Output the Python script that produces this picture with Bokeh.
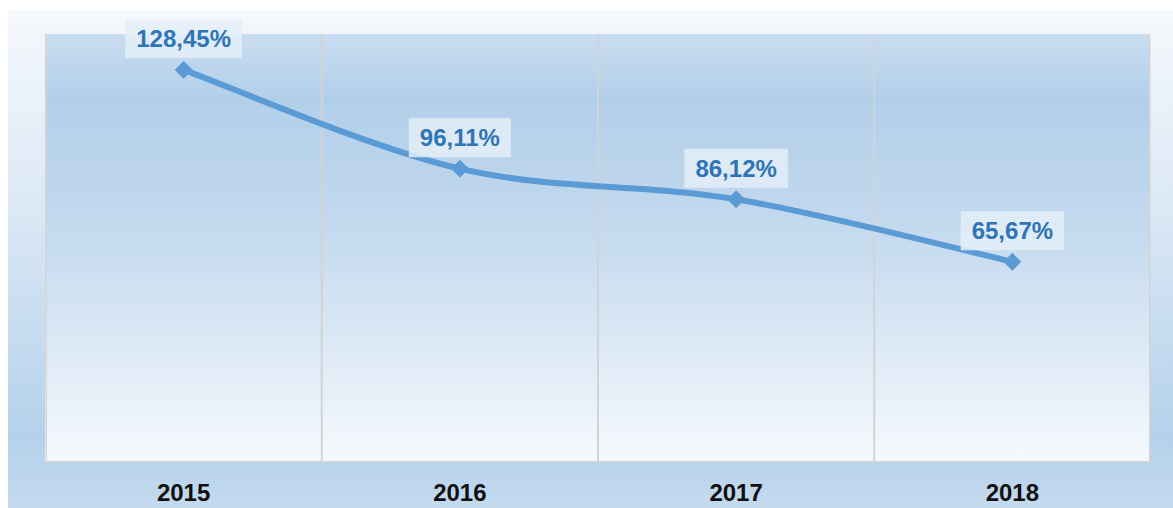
from bokeh.plotting import figure
from bokeh.models import Range1d, FixedTicker, Span, ColumnDataSource, Label
from bokeh.embed import file_html
from bokeh.resources import INLINE

# ---- data ----
years = ["2015", "2016", "2017", "2018"]
values = [128.45, 96.11, 86.12, 65.67]
labels = ["128,45%", "96,11%", "86,12%", "65,67%"]

LINE_COLOR = "#5b9bd5"
LABEL_COLOR = "#2f75b6"
FONT = "Liberation Sans"
YMAX = 140

xs = [i + 0.5 for i in range(len(years))]

W, H = 1173, 508
BL, BR, BB = 45, 23, 46
AREA_TOP = 34          # top of shaded plot area
BT = 10                # frame top (room for labels)
FW = W - BL - BR
AH = H - BB - AREA_TOP
FH = H - BB - BT
y_end = YMAX * FH / AH

bg = (
    f"linear-gradient(to bottom, #c9ddf0 0%, #b2cfea 15%, #c3d9ee 45%, #f5f9fd 100%) "
    f"{BL}px {AREA_TOP}px / {FW}px {AH}px no-repeat, "
    f"linear-gradient(to bottom, #f5f8fc 0%, #dbe8f5 40%, #b4d1eb 86%, #c4daef 100%) "
    f"8px 10px / {W - 8}px {H - 10}px no-repeat, #ffffff"
)

p = figure(
    width=W, height=H,
    x_range=Range1d(0, 4), y_range=Range1d(0, y_end),
    output_backend="svg", toolbar_location=None,
    y_axis_location=None,
    min_border_left=BL, min_border_right=BR, min_border_top=BT, min_border_bottom=BB,
    styles={"background": bg},
)
p.border_fill_alpha = 0
p.background_fill_alpha = 0
p.outline_line_color = None
p.xgrid.grid_line_color = None
p.ygrid.grid_line_color = None

# category separators and frame edges (up to top of plot area)
p.segment(x0=[1, 2, 3], y0=[0, 0, 0], x1=[1, 2, 3], y1=[YMAX] * 3,
          line_color="#d3d3d3", line_width=2)
p.segment(x0=[0, 4], y0=[0, 0], x1=[0, 4], y1=[YMAX] * 2,
          line_color="#d4d4d4", line_width=3)
p.add_layout(Span(location=0, dimension="width", line_color="#d4d4d4", line_width=3))

# x axis
ax = p.xaxis[0]
ax.ticker = FixedTicker(ticks=xs)
ax.major_label_overrides = {x: y for x, y in zip(xs, years)}
ax.axis_line_color = None
ax.major_tick_line_color = None
ax.minor_tick_line_color = None
ax.major_label_standoff = 15
ax.major_label_text_font = FONT
ax.major_label_text_font_style = "bold"
ax.major_label_text_font_size = "24px"
ax.major_label_text_color = "#111111"

# smooth line (Catmull-Rom -> cubic Bezier)
n = len(xs)
x0, y0, x1, y1, cx0, cy0, cx1, cy1 = [], [], [], [], [], [], [], []
for i in range(n - 1):
    pa = (xs[max(i - 1, 0)], values[max(i - 1, 0)])
    pb = (xs[i], values[i])
    pc = (xs[i + 1], values[i + 1])
    pd = (xs[min(i + 2, n - 1)], values[min(i + 2, n - 1)])
    x0.append(pb[0]); y0.append(pb[1])
    x1.append(pc[0]); y1.append(pc[1])
    cx0.append(pb[0] + (pc[0] - pa[0]) / 6); cy0.append(pb[1] + (pc[1] - pa[1]) / 6)
    cx1.append(pc[0] - (pd[0] - pb[0]) / 6); cy1.append(pc[1] - (pd[1] - pb[1]) / 6)
p.bezier(x0=x0, y0=y0, x1=x1, y1=y1, cx0=cx0, cy0=cy0, cx1=cx1, cy1=cy1,
         line_color=LINE_COLOR, line_width=6)

src = ColumnDataSource(dict(x=xs, y=values, label=labels))
p.scatter("x", "y", source=src, marker="square", angle=0.785398, size=12,
          fill_color=LINE_COLOR, line_color=LINE_COLOR)

for x, v, t in zip(xs, values, labels):
    p.add_layout(Label(
        x=x, y=v, text=t, y_offset=31,
        text_align="center", text_baseline="middle",
        text_font=FONT, text_font_style="bold", text_font_size="24px",
        text_color=LABEL_COLOR,
        background_fill_color="#e4eef8", background_fill_alpha=0.85,
        padding=[11, 6],
    ))

open("out.html", "w").write(file_html(p, INLINE))
